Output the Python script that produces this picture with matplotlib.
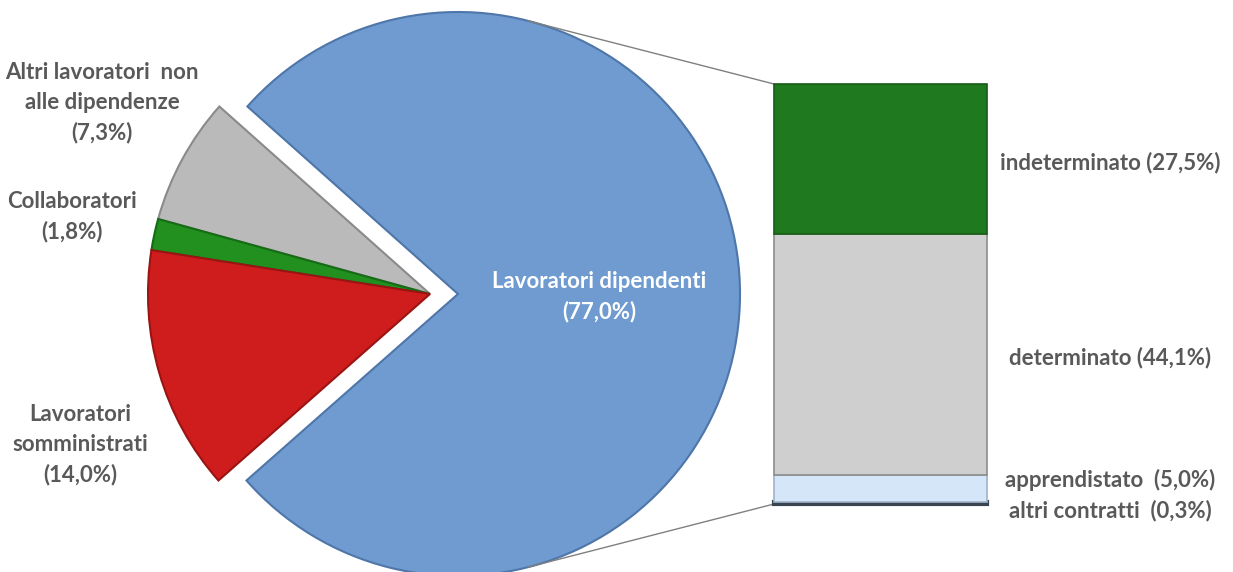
import numpy as np
import matplotlib.pyplot as plt

# pie (counterclockwise from the right-hand slice)
pie_labels = ['Lavoratori dipendenti', 'Altri lavoratori  non\nalle dipendenze',
              'Collaboratori', 'Lavoratori\nsomministrati']
pie_values = [77.0, 7.3, 1.8, 14.0]
pie_colors = ['#6f9bd0', '#bababa', '#21901f', '#cf1d1d']
pie_edges = ['#4f76a8', '#8a8a8a', '#166b15', '#9a1414']

# bar of the "dipendenti" slice, bottom to top
bar_labels = ['altri contratti ', 'apprendistato ', 'determinato', 'indeterminato']
bar_values = [0.3, 5.0, 44.1, 27.5]
bar_colors = ['#3a4450', '#d6e6f9', '#cfcfcf', '#1f7a1f']
bar_edges = ['#3a4450', '#9fb3c9', '#8c8c8c', '#165c16']


def pct(v):
    return f'({v:.1f}%)'.replace('.', ',')


W, H = 1233, 572
grey_txt = '#595959'
font = 'Lato'

fig = plt.figure(figsize=(W / 100, H / 100), dpi=100)
ax = fig.add_axes([0, 0, 1, 1])

# pie
cx, cy, R = 458, H - 294, 282
shift = 28
wedges, _ = ax.pie(pie_values, colors=pie_colors, center=(cx, cy), radius=R,
                   startangle=-pie_values[0] * 3.6 / 2, counterclock=True,
                   wedgeprops=dict(linewidth=1.5))
for w, ec in zip(wedges, pie_edges):
    w.set_edgecolor(ec)
for w in wedges[1:]:
    w.set_center((cx - shift, cy))

# stacked bar
bx, bw = 880.5, 213
b_bottom, b_top = H - 504, H - 84
scale = (b_top - b_bottom) / sum(bar_values)
heights = np.array(bar_values) * scale
bottoms = b_bottom + np.concatenate([[0], np.cumsum(heights)[:-1]])
for i in range(len(bar_values)):
    lw = 3 if i == 0 else 1.2
    ax.bar(bx, heights[i], bottom=bottoms[i], width=bw, color=bar_colors[i],
           edgecolor=bar_edges[i], linewidth=lw, zorder=3)

# connector lines, tangent to the pie
for corner, sign in [((bx - bw / 2, b_top), 1), ((bx - bw / 2, b_bottom), -1)]:
    dx, dy = corner[0] - cx, corner[1] - cy
    d = np.hypot(dx, dy)
    a = np.arctan2(dy, dx) + sign * np.arccos(R / d)
    ax.plot([cx + R * np.cos(a), corner[0]], [cy + R * np.sin(a), corner[1]],
            color='#808080', lw=1, zorder=1)

# labels
kw = dict(fontsize=16, fontweight='bold', family=font, ha='center', va='center',
          linespacing=1.5)
ax.text(599, H - 297, f'{pie_labels[0]}\n{pct(pie_values[0])}', color='white', **kw)
ax.text(102, H - 103, f'{pie_labels[1]}\n{pct(pie_values[1])}', color=grey_txt, **kw)
ax.text(72, H - 217, f'{pie_labels[2]}\n{pct(pie_values[2])}', color=grey_txt, **kw)
ax.text(80, H - 445, f'{pie_labels[3]}\n{pct(pie_values[3])}', color=grey_txt, **kw)

bar_label_y = [511, 480, 358, 163]
for lab, v, y in zip(bar_labels, bar_values, bar_label_y):
    ax.text(1110, H - y, f'{lab} {pct(v)}', color=grey_txt, **kw)

ax.set_xlim(0, W)
ax.set_ylim(0, H)
ax.set_aspect('auto')
ax.axis('off')

fig.savefig('out.png', dpi=100, facecolor='white')
